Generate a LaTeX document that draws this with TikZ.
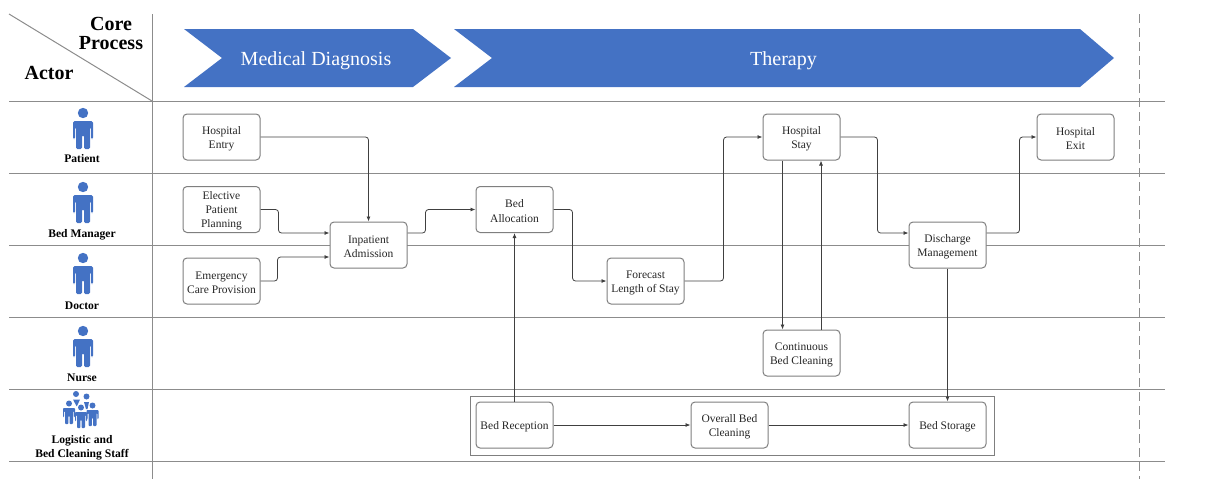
\documentclass[tikz,border=0pt]{standalone}
\usepackage{fontspec}
\setmainfont{Liberation Serif}
\usetikzlibrary{arrows.meta,calc}
\definecolor{iconblue}{HTML}{4472C4}
\definecolor{gridgray}{HTML}{8C8C8C}
\definecolor{boxgray}{HTML}{7F7F7F}
\definecolor{linkgray}{HTML}{404040}
\definecolor{txtgray}{HTML}{262626}
\newcommand\upgap{\rule{0pt}{11pt}}
\tikzset{
  x=1pt,y=-1pt,
  grid/.style={draw=gridgray,line width=1pt},
  stepbox/.style={draw=boxgray,line width=1pt,rounded corners=4pt,fill=white,minimum width=77pt,minimum height=46pt,inner sep=0pt,align=center,font=\fontsize{11.5}{14.2}\selectfont,text=txtgray},
  link/.style={draw=linkgray,line width=0.8pt,rounded corners=3pt,-{Latex[length=5pt,width=4pt]}},
  actor/.style={font=\fontsize{11.6}{13.8}\selectfont\bfseries,align=center,inner sep=0pt,text=black},
  headtxt/.style={font=\fontsize{20}{18}\selectfont\bfseries,align=center,inner sep=0pt},
  banner/.style={fill=iconblue,draw=none},
  bannertxt/.style={text=white,font=\fontsize{20}{24}\selectfont,inner sep=0pt},
  person/.pic={
    \fill[iconblue] (0,-15) circle (5.2);
    \fill[iconblue,rounded corners=1.5pt] (-10,-7) -- (10,-7) -- (10,11) -- (8,11) -- (8,-1) -- (7,-1) -- (7,21) -- (1,21) -- (1,7) -- (-1,7) -- (-1,21) -- (-7,21) -- (-7,-1) -- (-8,-1) -- (-8,11) -- (-10,11) -- cycle;
  },
  mini/.pic={
    \fill[iconblue] (0,-5.5) circle (3);
    \fill[iconblue,rounded corners=0.8pt] (-6,-1) -- (6,-1) -- (6,8) -- (4.8,8) -- (4.8,2) -- (4,2) -- (4,15) -- (0.7,15) -- (0.7,7) -- (-0.7,7) -- (-0.7,15) -- (-4,15) -- (-4,2) -- (-4.8,2) -- (-4.8,8) -- (-6,8) -- cycle;
  },
}
\begin{document}
\begin{tikzpicture}
\useasboundingbox (0,0) rectangle (1206,479);
% grid
\foreach \yy in {101,173,245,317,389,461} \draw[grid] (9,\yy) -- (1165,\yy);
\draw[grid] (152,14) -- (152,479);
\draw[grid] (9,14) -- (152,101);
\draw[grid,dashed,dash pattern=on 9pt off 5pt] (1139,14) -- (1139,479);
% header
\node[headtxt] (core) at (111,33) {Core\\[1pt]Process};
\node[headtxt] (actorhd) at (49,73) {Actor};
\fill[banner] (184,29) -- (413,29) -- (451,58) -- (413,87) -- (184,87) -- (222,58) -- cycle;
\fill[banner] (454,29) -- (1080,29) -- (1114,58) -- (1080,87) -- (454,87) -- (492,58) -- cycle;
\node[bannertxt] (diag) at (316,60.5) {Medical Diagnosis};
\node[bannertxt] (ther) at (783.5,60.5) {Therapy};
% actors
\pic at (83,128) {person};
\node[actor] (patient) at (82,159) {Patient};
\pic at (83,202) {person};
\node[actor] (bedmgr) at (82,234.5) {Bed Manager};
\pic at (83,273) {person};
\node[actor] (doctor) at (82,305.5) {Doctor};
\pic at (83,346) {person};
\node[actor] (nurse) at (82,377.5) {Nurse};
% group icon
\fill[iconblue] (76,394) circle (3);
\fill[iconblue] (86.5,396.5) circle (3);
\fill[iconblue] (73,399.5) -- (80,399.5) -- (77,406) -- (76.5,406) -- cycle;
\fill[iconblue] (84,402) -- (89,402) -- (87.5,409) -- (86,409) -- cycle;
\pic at (69,409) {mini};
\pic at (92.5,411) {mini};
\pic at (81,413) {mini};
\node[actor] (logistic) at (82,447.5) {Logistic and\\Bed Cleaning Staff};
% outer box
\draw[draw=boxgray,line width=1pt] (470,396) rectangle (994,455);
% steps
\node[stepbox] (entry) at (221.5,137) {\upgap Hospital\\Entry};
\node[stepbox] (elective) at (221.5,209.5) {\upgap Elective\\Patient\\Planning};
\node[stepbox] (emerg) at (221.5,281) {\upgap Emergency\\Care Provision};
\node[stepbox] (admit) at (368.5,245) {\upgap Inpatient\\Admission};
\node[stepbox] (alloc) at (514.5,209.5) {\upgap Bed\\Allocation};
\node[stepbox] (forecast) at (645.5,281) {\upgap Forecast\\Length of Stay};
\node[stepbox] (stay) at (801.5,137) {\upgap Hospital\\Stay};
\node[stepbox] (discharge) at (947.5,245) {\upgap Discharge\\Management};
\node[stepbox] (exit) at (1075.5,137) {\upgap Hospital\\Exit};
\node[stepbox] (contin) at (801.5,353) {\upgap Continuous\\Bed Cleaning};
\node[stepbox] (recep) at (514.5,425) {\upgap Bed Reception};
\node[stepbox] (overall) at (729.5,425) {\upgap Overall Bed\\Cleaning};
\node[stepbox] (storage) at (947.5,425) {\upgap Bed Storage};
% connectors
\draw[link] (entry.east) -| (admit.north);
\draw[link] (elective.east) -- ++(18,0) |- ($(admit.west)+(0,-12)$);
\draw[link] (emerg.east) -- ++(17,0) |- ($(admit.west)+(0,12)$);
\draw[link] ($(admit.east)+(0,-12)$) -- ++(18,0) |- (alloc.west);
\draw[link] (alloc.east) -- ++(19,0) |- (forecast.west);
\draw[link] (forecast.east) -- ++(39,0) |- (stay.west);
\draw[link] (stay.east) -- ++(37,0) |- ($(discharge.west)+(0,-12)$);
\draw[link] ($(discharge.east)+(0,-12)$) -- ++(33,0) |- (exit.west);
\draw[link] ($(stay.south)+(-19,0)$) -- ($(contin.north)+(-19,0)$);
\draw[link] ($(contin.north)+(19.5,0)$) -- ($(stay.south)+(19.5,0)$);
\draw[link] (recep.north) -- (alloc.south);
\draw[link] (discharge.south) -- (storage.north);
\draw[link] (recep.east) -- (overall.west);
\draw[link] (overall.east) -- (storage.west);
\end{tikzpicture}
\end{document}
